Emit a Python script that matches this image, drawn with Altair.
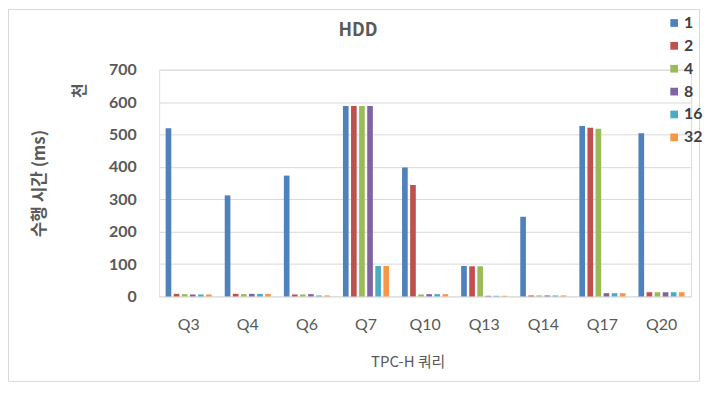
import altair as alt
import pandas as pd

queries = ["Q3", "Q4", "Q6", "Q7", "Q10", "Q13", "Q14", "Q17", "Q20"]
threads = ["1", "2", "4", "8", "16", "32"]
colors = ["#4F81BD", "#C0504D", "#9BBB59", "#8064A2", "#4BACC6", "#F79646"]

# execution time (thousands of ms), one list per thread count
t1 = [519, 312, 373, 588, 398, 94, 246, 526, 504]
t2 = [8, 8, 6, 588, 344, 93, 3, 521, 13]
t4 = [7, 7, 6, 588, 6, 93, 3, 518, 13]
t8 = [6, 8, 7, 588, 7, 2, 3, 10, 13]
t16 = [6, 8, 3, 94, 7, 2, 3, 10, 13]
t32 = [6, 8, 3, 94, 7, 2, 3, 10, 13]

series = [t1, t2, t4, t8, t16, t32]
rows = []
for th, vals in zip(threads, series):
    for q, v in zip(queries, vals):
        rows.append({"query": q, "threads": th, "value": v})
df = pd.DataFrame(rows)

FONT = "Noto Sans CJK KR"
NUM = "Lato"
GRAY = "#595959"

bars = alt.Chart(df).mark_bar().encode(
    x=alt.X("query:N", sort=queries,
            scale=alt.Scale(paddingInner=0.22, paddingOuter=0.11),
            axis=alt.Axis(title="TPC-H 쿼리", labelAngle=0, ticks=False, domain=False,
                          labelPadding=20, labelFontSize=16, labelColor=GRAY,
                          labelFont=NUM, titleFont=FONT, titleFontSize=15,
                          titleFontWeight="normal", titleColor=GRAY,
                          titleX=250, titleY=65, titleBaseline="middle")),
    xOffset=alt.XOffset("threads:N", sort=threads,
                        scale=alt.Scale(paddingInner=0.3, paddingOuter=0)),
    y=alt.Y("value:Q", scale=alt.Scale(domain=[0, 700]),
            axis=alt.Axis(title="수행 시간 (ms)", values=[0, 100, 200, 300, 400, 500, 600, 700],
                          ticks=False, domain=False, labelPadding=23, labelFontSize=16,
                          labelFontWeight="bold", labelColor=GRAY, labelFont=NUM,
                          gridColor="#d9d9d9", titleFont=FONT, titleFontSize=17,
                          titleFontWeight="bold", titleColor=GRAY, titleX=-120,
                          titleY=114, titleAngle=-90, titleBaseline="middle",
                          titleAlign="center")),
    color=alt.Color("threads:N", sort=threads,
                    scale=alt.Scale(domain=threads, range=colors),
                    legend=alt.Legend(title=None, orient="none", legendX=510, legendY=-55,
                                      symbolType="square", symbolSize=60,
                                      symbolStrokeWidth=0, labelFontSize=16,
                                      labelFontWeight="bold", labelColor="#404040",
                                      labelFont=NUM, rowPadding=7, labelOffset=2)),
)

ann = pd.DataFrame({"t": ["HDD"]})
title = alt.Chart(ann).mark_text(fontSize=18, fontWeight="bold", color=GRAY, font=FONT,
                                 align="center", baseline="middle").encode(
    text="t:N", x=alt.value(200), y=alt.value(-39))

unit = alt.Chart(pd.DataFrame({"t": ["천"]})).mark_text(
    fontSize=16, fontWeight="bold", color=GRAY, font=FONT, angle=270,
    align="center", baseline="middle").encode(
    text="t:N", x=alt.value(-80), y=alt.value(21))

frame = alt.Chart(pd.DataFrame({"a": [0]})).mark_rect(
    fill="white", fillOpacity=0, stroke="#d9d9d9", strokeWidth=1).encode(
    x=alt.value(-151.5), x2=alt.value(543.5), y=alt.value(-60.5), y2=alt.value(313.5))

chart = alt.layer(frame, bars, title, unit).properties(
    width=535, height=228,
    autosize=alt.AutoSizeParams(type="none"),
    padding={"left": 152, "top": 61, "right": 12, "bottom": 86},
).configure_view(stroke=None).configure(background="white")

chart.save("out.html", embed_options={"renderer": "svg", "actions": False})
